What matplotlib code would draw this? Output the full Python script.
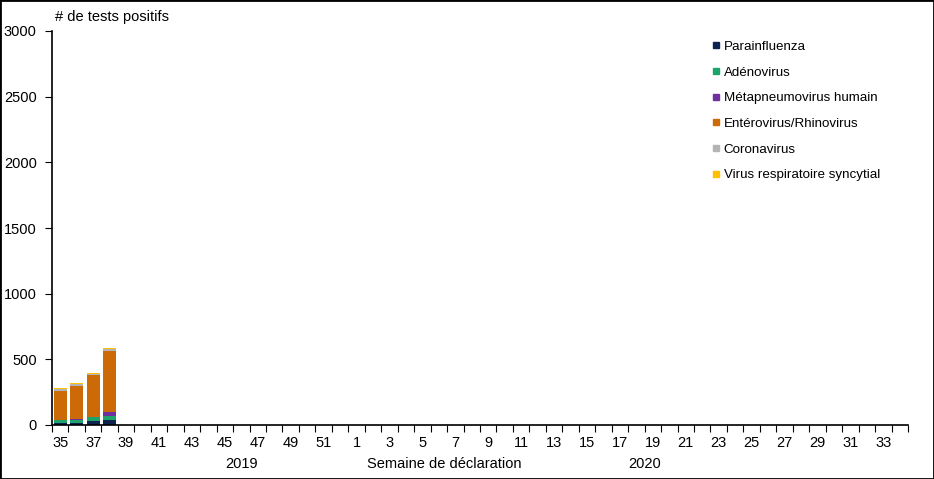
import numpy as np
import matplotlib
matplotlib.use("Agg")
import matplotlib.pyplot as plt
from matplotlib.lines import Line2D

plt.rcParams['font.family'] = ['Liberation Sans', 'DejaVu Sans']

# Semaines de déclaration : 35-52 (2019) puis 1-34 (2020)
weeks = list(range(35, 53)) + list(range(1, 35))

# Données disponibles (semaines 35 à 38), le reste est vide
parainfluenza = [15, 15, 30, 38]
adenovirus = [23, 25, 30, 30]
metapneumovirus = [2, 8, 3, 30]
enterovirus = [219, 251, 320, 465]
coronavirus = [15, 13, 6, 16]
vrs = [4, 4, 4, 4]

labels = ['Parainfluenza', 'Adénovirus', 'Métapneumovirus humain',
          'Entérovirus/Rhinovirus', 'Coronavirus', 'Virus respiratoire syncytial']
colors = ['#0c2350', '#1ea46b', '#7030a0', '#cc6a08', '#b4b4b4', '#ffc000']
series = [parainfluenza, adenovirus, metapneumovirus, enterovirus, coronavirus, vrs]

n = len(weeks)
x = np.arange(n)

fig = plt.figure(figsize=(9.34, 4.79), dpi=100)
ax = fig.add_axes([52/934, 1-425/479, 856/934, 394/479])

bottom = np.zeros(n)
for vals, col in zip(series, colors):
    full = np.zeros(n)
    full[:len(vals)] = vals
    ax.bar(x, full, width=0.78, bottom=bottom, color=col, linewidth=0)
    bottom += full

ax.set_xlim(-0.5, n - 0.5)
ax.set_ylim(0, 3000)
ax.set_yticks(np.arange(0, 3001, 500))
ax.tick_params(axis='y', direction='out', length=5, labelsize=10.5, pad=6)

# ticks aux limites des catégories, étiquettes une semaine sur deux
ax.set_xticks(np.arange(-0.5, n, 1))
ax.set_xticklabels([])
ax.tick_params(axis='x', which='major', direction='out', length=5)
ax.set_xticks(x[::2], minor=True)
ax.set_xticklabels([str(w) for w in weeks[::2]], minor=True)
ax.tick_params(axis='x', which='minor', length=0, labelsize=10.5, pad=8)

for s in ['top', 'right']:
    ax.spines[s].set_visible(False)
for s in ['left', 'bottom']:
    ax.spines[s].set_linewidth(1.2)

fig.text(55/934, 1-17/479, '# de tests positifs', fontsize=10.5, va='center', ha='left')
fig.text(242/934, 1-464/479, '2019', fontsize=10.5, va='center', ha='center')
fig.text(444/934, 1-464/479, 'Semaine de déclaration', fontsize=10.5, va='center', ha='center')
fig.text(645/934, 1-464/479, '2020', fontsize=10.5, va='center', ha='center')

handles = [Line2D([], [], marker='s', linestyle='none', markersize=5,
                  markerfacecolor=c, markeredgecolor=c) for c in colors]
fig.legend(handles, labels, loc='upper left', bbox_to_anchor=(705/934, 1-34/479),
           frameon=False, fontsize=9.6, handlelength=0.6, handletextpad=0.3,
           labelspacing=1.0, borderpad=0)

fig.patches.append(plt.Rectangle((0, 0), 1, 1, transform=fig.transFigure,
                                 fill=False, edgecolor='black', linewidth=2))

fig.savefig('out.png', dpi=100)
